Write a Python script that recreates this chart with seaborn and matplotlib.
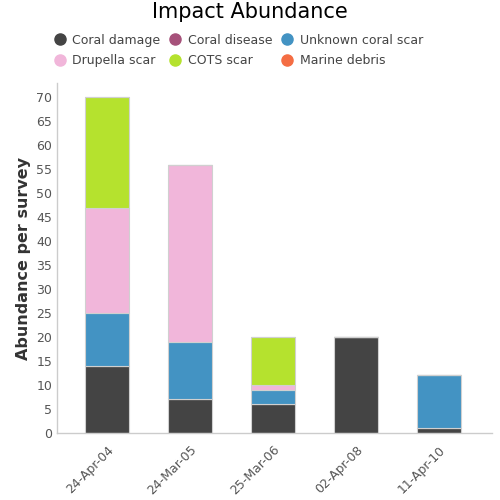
import numpy as np
import pandas as pd
import seaborn as sns
from matplotlib import pyplot as plt
from matplotlib.lines import Line2D

dates = ['24-Apr-04', '24-Mar-05', '25-Mar-06', '02-Apr-08', '11-Apr-10']
coral_damage = [14, 7, 6, 20, 1]
coral_disease = [0, 0, 0, 0, 0]
unknown_scar = [11, 12, 3, 0, 11]
drupella_scar = [22, 37, 1, 0, 0]
cots_scar = [23, 0, 10, 0, 0]
marine_debris = [0, 0, 0, 0, 0]

series = ['Coral damage', 'Coral disease', 'Unknown coral scar',
          'Drupella scar', 'COTS scar', 'Marine debris']
colors = ['#444444', '#a6517a', '#4393c3', '#f1b6da', '#b5e22e', '#f46d43']

df = pd.DataFrame({'date': dates,
                   'Coral damage': coral_damage,
                   'Coral disease': coral_disease,
                   'Unknown coral scar': unknown_scar,
                   'Drupella scar': drupella_scar,
                   'COTS scar': cots_scar,
                   'Marine debris': marine_debris})

sns.set_style('white')
plt.rcParams['font.family'] = ['DejaVu Sans']

fig = plt.figure(figsize=(5, 5), dpi=100)
ax = fig.add_axes([0.114, 0.134, 0.87, 0.70])

bottom = np.zeros(len(dates))
for name, col in zip(series, colors):
    vals = df[name].values
    sns.barplot(x=df['date'], y=vals, bottom=bottom, color=col, width=0.53,
                saturation=1, edgecolor='#d0d0d0', linewidth=0.8, ax=ax)
    bottom = bottom + vals

ax.set_xlim(-0.6, 4.64)
ax.set_ylim(0, 73)
ax.set_yticks(np.arange(0, 71, 5))
ax.set_xlabel('')
ax.set_ylabel('Abundance per survey', fontsize=11.5, color='#333333',
              fontweight='bold')
ax.tick_params(axis='both', labelsize=9, colors='#555555', length=0)
ax.tick_params(axis='x', length=4, color='#cccccc')
plt.setp(ax.get_xticklabels(), rotation=45, ha='right', rotation_mode='anchor')
for s in ['top', 'right']:
    ax.spines[s].set_visible(False)
for s in ['left', 'bottom']:
    ax.spines[s].set_color('#cccccc')
    ax.spines[s].set_linewidth(1)

fig.suptitle('Impact Abundance', y=0.995, fontsize=15, color='black')

handles = [Line2D([], [], marker='o', linestyle='', markersize=8,
                  markerfacecolor=c, markeredgecolor=c) for c in colors]
# legend fills column by column, so interleave to get row order
order = [0, 3, 1, 4, 2, 5]
fig.legend([handles[i] for i in order], [series[i] for i in order],
           loc='upper left', bbox_to_anchor=(0.072, 0.955),
           ncol=3, frameon=False, fontsize=9, handletextpad=0.0,
           columnspacing=0.2, labelspacing=0.6, labelcolor='#444444')

fig.savefig('out.png', dpi=100)
